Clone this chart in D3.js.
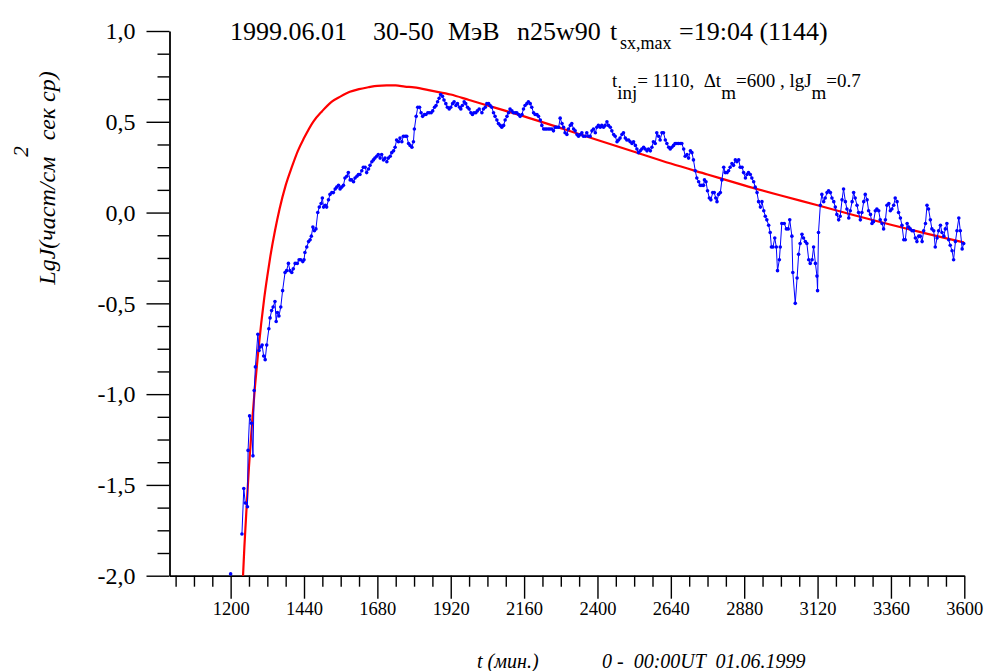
<!DOCTYPE html>
<html>
<head>
<meta charset="utf-8">
<script src="https://cdn.jsdelivr.net/npm/d3@7"></script>
<style>
  html, body { margin: 0; padding: 0; background: #fff; }
  svg { display: block; }
  text { font-family: "Liberation Serif", "Times New Roman", serif; fill: #000; }
</style>
</head>
<body>
<svg id="chart" width="985" height="671"></svg>
<script>
// Measured proton flux, lg J, time in minutes from 00:00 UT 01.06.1999
const fluxTime = [
  1200,
  1237,1243,1248,1255,1257,1262,1268,1273,1277,1281,1289,1293,1297,1303,1308,1313,1318,1325,1329,1334,1339,1345,1349,1353,1358,1364,
  1370,1378,1383,1389,1394,1400,1405,1411,1418,1424,1429,1436,1440,1443,1449,1455,1460,1464,1469,1474,1479,1485,1490,1496,1500,1504,1510,1514,1520,1525,1531,1536,1542,1547,1553,1558,1563,1569,1574,1580,1585,1591,1596,1602,1607,1613,1618,1623,1629,1634,1640,1645,1651,1656,1662,1667,1672,1678,1683,1689,1694,1700,1705,1711,1716,1722,1727,1733,1738,1743,1749,1754,1760,1765,1771,1776,1782,1787,1793,1798,1801,1807,1812,1818,1823,1828,1834,1839,1845,1850,1856,1861,1867,1872,1877,1882,1887,1893,1898,1904,1909,1915,1920,1926,1931,1937,1942,1949,1953,1958,1964,1969,1975,1980,1986,1991,1996,2002,2007,2013,
  2022,2027,2033,2038,2044,2049,2054,2060,2065,2071,2076,2082,2087,2093,2098,2104,2109,2114,2120,2125,2131,2136,2142,2147,2153,2158,2163,2169,2174,2180,2185,2191,2196,2202,2207,2213,2218,2224,2229,2234,2240,2245,2251,2256,2262,2267,2273,2278,2284,2289,2294,2300,2305,2311,2316,2322,2327,2333,2338,2344,2349,2354,2360,2365,2371,2376,2382,2387,2393,2398,2403,2409,2414,2420,2425,2431,2436,2442,2447,2453,2458,2464,2469,2474,2480,2485,2491,2496,2502,2507,2513,2518,2524,2529,2534,2540,2545,2551,2556,2562,2567,2573,2578,2583,2589,2594,2600,2605,2611,2616,2622,2627,2633,2638,2643,2649,2654,2660,2665,2671,2676,2682,2687,2693,2698,2704,2709,2714,
  2720,2725,2731,2736,2742,2747,2750,2755,2760,2766,2771,2777,2782,2787,2791,2796,2802,2807,2813,2818,2824,2829,2834,2840,2845,2851,2856,2862,2867,2873,2878,2884,2889,2894,2900,2905,2911,2916,2922,2927,2933,2938,2944,2949,2954,2960,2965,2969,2974,2980,2985,2989,2995,
  2998,3003,3011,3018,3024,3029,3036,3039,3047,3053,3058,3063,3069,3074,3080,3085,3091,3096,3102,3107,3113,3118,3120,3123,3129,3134,3140,3145,3151,3156,3162,3167,3173,3178,3183,3189,3194,3200,3205,3211,3216,3222,3227,3233,3238,3243,3249,3254,3260,3265,3271,3276,3282,3287,3293,3298,3303,3309,3314,3320,3325,3331,3336,3342,3347,3353,3358,3363,3369,3374,3380,3385,3391,3396,3402,3407,3413,3418,3423,3429,3434,3440,3445,3451,3456,3462,3467,3473,3478,3483,3489,3494,3500,3505,3511,3516,3522,3527,3533,3538,3543,3549,3554,3560,3565,3571,3576,3582,3587,3593,3598
];
const fluxLg = [
  -1.99,
  -1.77,-1.52,-1.60,-1.62,-1.31,-1.12,-1.16,-1.34,-0.98,-0.85,-0.67,-0.76,-0.74,-0.73,-0.79,-0.81,-0.73,-0.64,-0.58,-0.54,-0.52,-0.49,-0.60,-0.55,-0.57,-0.52,
  -0.43,-0.33,-0.32,-0.28,-0.32,-0.33,-0.31,-0.28,-0.28,-0.26,-0.26,-0.27,-0.26,-0.22,-0.19,-0.16,-0.15,-0.13,-0.08,-0.10,-0.09,0.00,0.03,0.05,0.08,0.03,0.04,0.03,0.07,0.10,0.11,0.11,0.13,0.14,0.15,0.13,0.14,0.15,0.19,0.20,0.22,0.18,0.18,0.17,0.19,0.20,0.21,0.21,0.23,0.25,0.25,0.22,0.24,0.26,0.28,0.29,0.30,0.31,0.32,0.30,0.32,0.29,0.30,0.28,0.30,0.31,0.33,0.34,0.36,0.40,0.39,0.41,0.39,0.42,0.42,0.42,0.38,0.37,0.36,0.39,0.46,0.53,0.58,0.58,0.55,0.53,0.54,0.54,0.55,0.55,0.55,0.56,0.58,0.59,0.61,0.63,0.65,0.64,0.62,0.60,0.58,0.57,0.58,0.60,0.61,0.59,0.60,0.58,0.57,0.59,0.61,0.60,0.58,0.57,0.55,0.54,0.55,0.55,0.56,0.57,
  0.55,0.57,0.58,0.60,0.60,0.59,0.58,0.55,0.53,0.51,0.49,0.48,0.47,0.48,0.51,0.53,0.55,0.57,0.56,0.55,0.55,0.55,0.54,0.53,0.54,0.57,0.59,0.60,0.61,0.60,0.58,0.55,0.54,0.54,0.53,0.51,0.48,0.46,0.46,0.46,0.46,0.46,0.46,0.45,0.47,0.47,0.47,0.52,0.49,0.47,0.44,0.43,0.46,0.48,0.49,0.46,0.45,0.43,0.42,0.43,0.44,0.42,0.42,0.44,0.42,0.42,0.45,0.46,0.44,0.47,0.48,0.47,0.48,0.47,0.48,0.50,0.48,0.47,0.45,0.43,0.42,0.39,0.40,0.41,0.43,0.44,0.41,0.40,0.40,0.39,0.38,0.39,0.37,0.35,0.33,0.34,0.35,0.36,0.35,0.34,0.35,0.34,0.36,0.39,0.38,0.44,0.42,0.40,0.44,0.44,0.40,0.38,0.36,0.35,0.36,0.37,0.38,0.38,0.38,0.38,0.38,0.35,0.31,0.32,0.30,0.34,0.33,0.29,
  0.23,0.19,0.17,0.15,0.15,0.15,0.18,0.17,0.12,0.08,0.07,0.11,0.11,0.08,0.06,0.10,0.11,0.18,0.25,0.22,0.22,0.23,0.25,0.27,0.26,0.29,0.28,0.29,0.25,0.25,0.22,0.19,0.21,0.22,0.21,0.19,0.17,0.14,0.11,0.06,0.03,0.06,0.01,-0.02,-0.04,-0.07,-0.11,-0.19,-0.19,-0.14,-0.19,-0.32,-0.26,
  -0.19,-0.06,-0.06,-0.09,-0.09,-0.04,-0.13,-0.33,-0.50,-0.36,-0.23,-0.17,-0.12,-0.14,-0.16,-0.17,-0.26,-0.28,-0.26,-0.19,-0.28,-0.35,-0.43,-0.11,0.04,0.10,0.06,0.08,0.11,0.12,0.11,0.08,0.06,0.03,-0.01,-0.04,-0.02,0.07,0.13,0.06,0.02,-0.03,0.01,0.06,0.11,0.08,0.04,0.00,-0.04,0.00,0.06,0.10,0.07,0.01,-0.01,-0.06,-0.05,0.01,0.02,0.01,-0.04,-0.06,-0.09,-0.04,0.04,0.05,0.01,0.02,0.04,0.08,0.06,0.00,-0.03,-0.07,-0.15,-0.15,-0.06,-0.08,-0.09,-0.10,-0.10,-0.14,-0.16,-0.13,-0.13,-0.16,-0.10,-0.06,0.04,0.02,-0.04,-0.09,-0.10,-0.19,-0.14,-0.10,-0.07,-0.11,-0.13,-0.09,-0.06,-0.15,-0.18,-0.21,-0.26,-0.16,-0.10,-0.03,-0.10,-0.20,-0.17
];

// Model profile (t_inj = 1110, Δt_m = 600, lgJ_m = 0.7)
const modelTime = [1240,1245,1250,1255,1260,1265,1270,1280,1290,1300,1310,1320,1330,1345,1360,1380,1400,1420,1440,1470,1500,1530,1560,1590,1620,1650,1680,1710,1740,1770,1800,1860,1920,1980,2040,2100,2160,2280,2400,2520,2640,2760,2880,3000,3120,3240,3360,3480,3600];
const modelLg = [-2.02,-1.84,-1.69,-1.54,-1.40,-1.28,-1.16,-0.95,-0.77,-0.61,-0.47,-0.35,-0.24,-0.10,0.02,0.15,0.25,0.34,0.41,0.50,0.56,0.61,0.64,0.665,0.68,0.69,0.698,0.70,0.70,0.694,0.69,0.67,0.65,0.62,0.59,0.56,0.53,0.465,0.40,0.335,0.27,0.21,0.15,0.094,0.04,-0.015,-0.067,-0.117,-0.165];

const xMajorTicks = [1200,1440,1680,1920,2160,2400,2640,2880,3120,3360,3600];
const yMajorTicks = [-2.0,-1.5,-1.0,-0.5,0.0,0.5,1.0];

const SERIF = '"Liberation Serif", "Times New Roman", serif';

const svg = d3.select("#chart");
svg.append("rect").attr("width", 985).attr("height", 671).attr("fill", "#fff");

const x = d3.scaleLinear().domain([1000, 3600]).range([169.5, 964.3]);
const y = d3.scaleLinear().domain([-2, 1]).range([575.7, 31]);

const fmtY = d => d3.format(".1f")(d).replace(".", ",").replace("\u2212", "-");

// minor ticks
const xMinor = d3.range(1020, 3601, 60).filter(t => !xMajorTicks.includes(t));
const yMinor = d3.range(-2, 1.0001, 0.125).filter(v => !yMajorTicks.some(m => Math.abs(m - v) < 1e-6));

function styleAxis(g, w) {
  g.selectAll("path.domain").attr("stroke", "#000").attr("stroke-width", w);
  g.selectAll(".tick line").attr("stroke", "#000").attr("stroke-width", 1.4);
  g.selectAll(".tick text").style("font-family", SERIF).attr("fill", "#000");
}

const gxMinor = svg.append("g").attr("transform", `translate(0,${y(-2)})`)
  .call(d3.axisBottom(x).tickValues(xMinor).tickSize(11).tickSizeOuter(0).tickFormat(""));
styleAxis(gxMinor, 0);
gxMinor.select("path.domain").remove();

const gx = svg.append("g").attr("transform", `translate(0,${y(-2)})`)
  .call(d3.axisBottom(x).tickValues(xMajorTicks).tickSize(23).tickSizeOuter(0).tickPadding(3).tickFormat(d3.format("d")));
styleAxis(gx, 1.8);
gx.selectAll(".tick text").style("font-size", "18.5px");

const gyMinor = svg.append("g").attr("transform", `translate(${x(1000)},0)`)
  .call(d3.axisLeft(y).tickValues(yMinor).tickSize(12).tickSizeOuter(0).tickFormat(""));
styleAxis(gyMinor, 0);
gyMinor.select("path.domain").remove();

const gy = svg.append("g").attr("transform", `translate(${x(1000)},0)`)
  .call(d3.axisLeft(y).tickValues(yMajorTicks).tickSize(23).tickSizeOuter(0).tickPadding(11).tickFormat(fmtY));
styleAxis(gy, 1.8);
gy.selectAll(".tick text").style("font-size", "24px");

// clip region of the plot
svg.append("clipPath").attr("id", "plot-clip")
  .append("rect").attr("x", x(1000)).attr("y", y(1)).attr("width", x(3600) - x(1000)).attr("height", y(-2) - y(1));

const plot = svg.append("g").attr("clip-path", "url(#plot-clip)");

// measured flux: thin connecting line plus dots, broken where the record has a gap
const flux = fluxTime.map((t, i) => ({ t, v: fluxLg[i] }));
const segments = [];
let cur = [];
flux.forEach((d, i) => {
  if (i > 0 && d.t - flux[i - 1].t > 20) { segments.push(cur); cur = []; }
  cur.push(d);
});
segments.push(cur);

const fluxLine = d3.line().x(d => x(d.t)).y(d => y(d.v));
svg.append("g").selectAll("path").data(segments.filter(s => s.length > 1)).join("path")
  .attr("d", fluxLine).attr("fill", "none").attr("stroke", "#0000ff").attr("stroke-width", 1);
svg.append("g").selectAll("circle").data(flux).join("circle")
  .attr("cx", d => x(d.t)).attr("cy", d => y(d.v)).attr("r", 1.8).attr("fill", "#0000ff");

// model curve
const model = modelTime.map((t, i) => ({ t, v: modelLg[i] }));
plot.append("path").datum(model)
  .attr("d", d3.line().curve(d3.curveMonotoneX).x(d => x(d.t)).y(d => y(d.v)))
  .attr("fill", "none").attr("stroke", "#ff0000").attr("stroke-width", 2.2);

// title
const title = svg.append("text").attr("y", 40).style("font-size", "26px");
title.append("tspan").attr("x", 230).text("1999.06.01");
title.append("tspan").attr("x", 373).text("30-50");
title.append("tspan").attr("x", 448).text("МэВ");
title.append("tspan").attr("x", 517).text("n25w90");
title.append("tspan").attr("x", 610).text("t");
title.append("tspan").attr("x", 620).attr("dy", 9).style("font-size", "18px").text("sx,max");
title.append("tspan").attr("x", 679).attr("dy", -9).text("=19:04 (1144)");

// model parameters
const note = svg.append("text").attr("x", 612).attr("y", 87).style("font-size", "19px").style("white-space", "pre");
note.append("tspan").text("t");
note.append("tspan").attr("dy", 12).text("inj");
note.append("tspan").attr("dy", -12).text("= 1110,  \u0394t");
note.append("tspan").attr("dy", 12).text("m");
note.append("tspan").attr("dy", -12).text("=600 , lgJ");
note.append("tspan").attr("dy", 12).text("m");
note.append("tspan").attr("dy", -12).text("=0.7");

// y axis title
const yt = svg.append("text").attr("transform", "translate(55,178) rotate(-90)")
  .attr("text-anchor", "middle").style("font-size", "24px").style("font-style", "italic").style("white-space", "pre");
yt.append("tspan").text("LgJ(част/см");
yt.append("tspan").attr("dy", -27).style("font-size", "21px").text("2");
yt.append("tspan").attr("dy", 27).text(" сек ср)");

// x axis title
svg.append("text").attr("x", 477).attr("y", 668).style("font-size", "20px").style("font-style", "italic").text("t (мин.)");
svg.append("text").attr("x", 602).attr("y", 668).style("font-size", "20px").style("font-style", "italic")
  .style("white-space", "pre").text("0 -  00:00UT  01.06.1999");
</script>
</body>
</html>
